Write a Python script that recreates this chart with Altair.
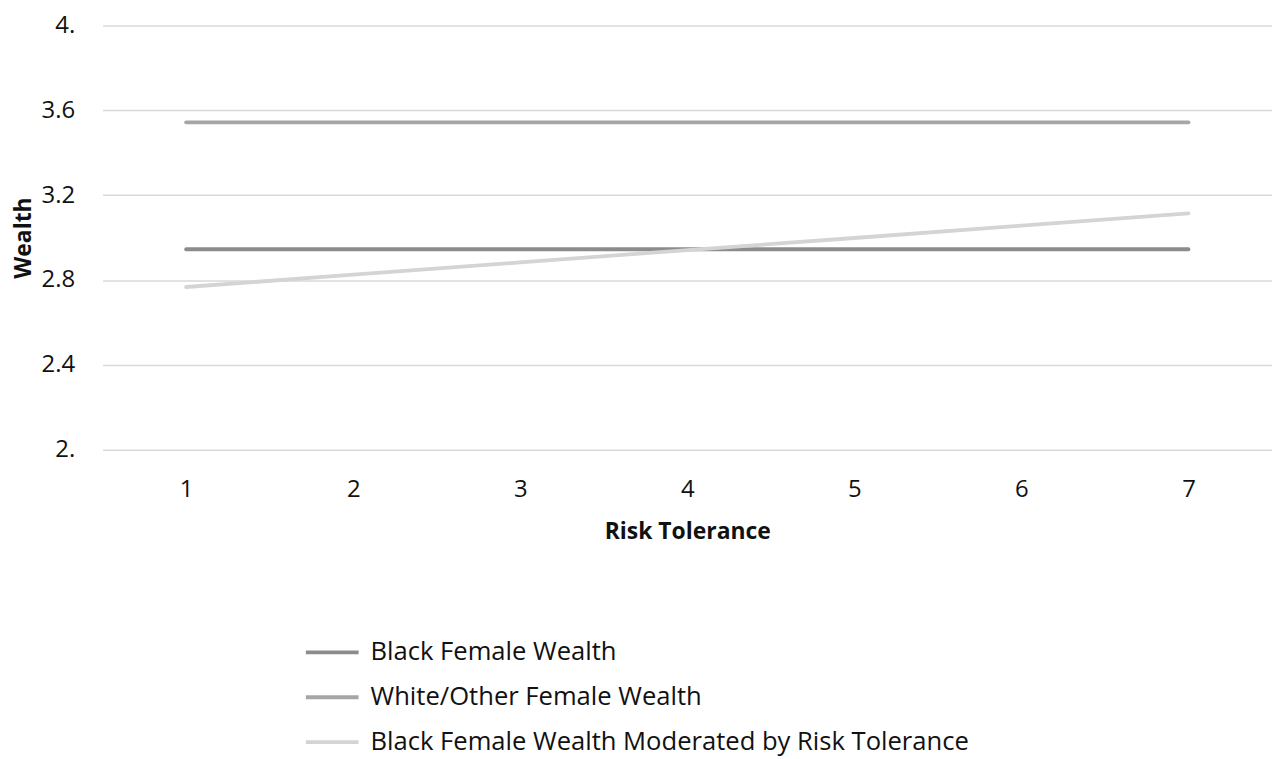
import altair as alt
import pandas as pd

risk = [1, 2, 3, 4, 5, 6, 7]
black_female = [2.945] * 7
white_other_female = [3.543] * 7
moderated = [2.767, 2.825, 2.883, 2.941, 2.998, 3.056, 3.114]
series_names = ["Black Female Wealth", "White/Other Female Wealth",
                "Black Female Wealth Moderated by Risk Tolerance"]
colors = ["#8c8c8c", "#a6a6a6", "#d4d4d4"]

rows = []
for name, vals in zip(series_names, [black_female, white_other_female, moderated]):
    for r, v in zip(risk, vals):
        rows.append({"Risk Tolerance": r, "Wealth": v, "Series": name})
df = pd.DataFrame(rows)

FONT = "Open Sans"

chart = alt.Chart(df).mark_line(strokeWidth=3.8, strokeCap="round").encode(
    x=alt.X("Risk Tolerance:O", title="Risk Tolerance",
            scale=alt.Scale(type="point", padding=0.5),
            axis=alt.Axis(labelAngle=0, ticks=False, domain=False, grid=False,
                          labelPadding=28, titlePadding=19)),
    y=alt.Y("Wealth:Q", title="Wealth",
            scale=alt.Scale(domain=[2, 4], nice=False, zero=False),
            axis=alt.Axis(values=[2, 2.4, 2.8, 3.2, 3.6, 4], ticks=False, domain=False,
                          labelExpr="datum.value == 4 ? '4.' : datum.value == 2 ? '2.' : format(datum.value, '.1f')",
                          labelPadding=28, titleX=-79, titleBaseline="middle",
                          gridColor="#d9d9d9", gridWidth=1.5)),
    color=alt.Color("Series:N", sort=series_names,
                    scale=alt.Scale(domain=series_names, range=colors),
                    legend=alt.Legend(title=None, orient="none", legendX=202, legendY=601,
                                      symbolType="stroke", symbolSize=2800,
                                      symbolStrokeWidth=3.8, rowPadding=3,
                                      labelOffset=10, labelLimit=900)),
).properties(
    width=1174, height=426,
    autosize=alt.AutoSizeParams(type="none"),
    padding={"left": 95, "top": 16, "right": 0, "bottom": 306},
).configure_view(stroke=None).configure_axis(
    labelFont=FONT, labelFontSize=24, labelColor="#111111",
    titleFont=FONT, titleFontSize=23, titleColor="#111111", titleFontWeight="bold",
).configure_legend(labelFont=FONT, labelFontSize=25.7, labelColor="#111111")

chart.save("out.html", embed_options={"renderer": "svg", "actions": False})
